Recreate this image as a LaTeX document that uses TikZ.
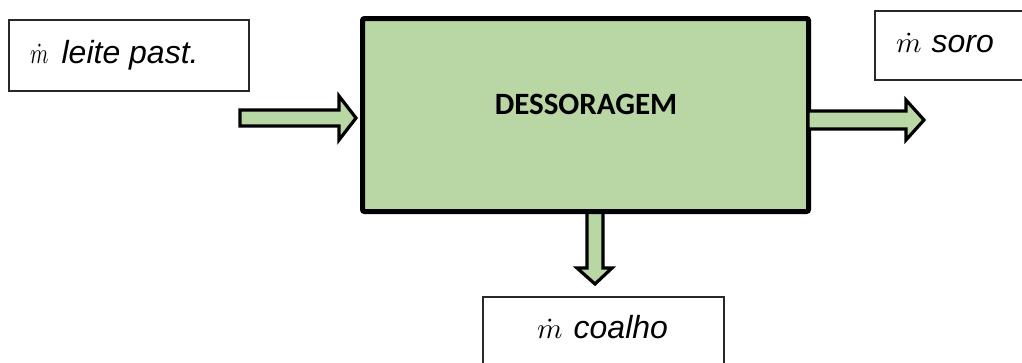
\documentclass[tikz,border=0pt]{standalone}
\usepackage{fontspec}
\setmainfont{Liberation Sans}
\newfontfamily\labelfont{Liberation Sans}
\newfontfamily\blockfont{Carlito}
\definecolor{blockgreen}{RGB}{185,214,165}
\definecolor{framegray}{RGB}{40,40,40}
% mass-flow symbol, set at 10pt and enlarged
\newcommand{\mflow}[1][2.9]{\scalebox{#1}[2.9]{\fontsize{10}{12}\selectfont$\dot{m}$}}
\tikzset{
  streambox/.style={draw=framegray, line width=1.3pt, fill=white},
  flowarrow/.style={draw=black, line width=3.2pt, fill=blockgreen, line join=miter},
  streamtext/.style={inner sep=0pt, anchor=base west, font=\labelfont\itshape\fontsize{32}{38}\selectfont},
}
\begin{document}
\begin{tikzpicture}[x=1pt,y=-1pt]
\useasboundingbox (0,0) rectangle (1022,362);

% stream labels
\draw[streambox] (9,20) rectangle (249,91);
\node[streamtext] (tLeite) at (30,63) {\mflow[2.1]\hspace{13pt}leite past.};

\draw[streambox] (875,11) rectangle (1040,80);
\node[streamtext] (tSoro) at (896,52) {\mflow\hspace{10pt}soro};

\draw[streambox] (483,297) rectangle (724,380);
\node[streamtext] (tCoalho) at (537,338) {\mflow\hspace{11pt}coalho};

% block arrow below the unit (drawn first so the frame covers its top)
\draw[flowarrow] (587,205) -- (603,205) -- (603,268) -- (612,268) -- (595,284)
  -- (577,268) -- (587,268) -- cycle;

% process unit
\node[draw=black, line width=5pt, fill=blockgreen, rounded corners=2pt,
      minimum width=446pt, minimum height=193pt, inner sep=0pt] (unit) at (585.5,115) {};
\node[inner sep=0pt, font=\blockfont\bfseries\fontsize{31}{36}\selectfont] (unitName) at (586,104) {DESSORAGEM};

% inlet block arrow
\draw[flowarrow] (240,110) -- (339,110) -- (339,96) -- (356,118) -- (339,140)
  -- (339,126) -- (240,126) -- cycle;

% outlet block arrow
\draw[flowarrow] (808,111) -- (906,111) -- (906,100) -- (924,120) -- (906,140)
  -- (906,129) -- (808,129) -- cycle;
\end{tikzpicture}
\end{document}
